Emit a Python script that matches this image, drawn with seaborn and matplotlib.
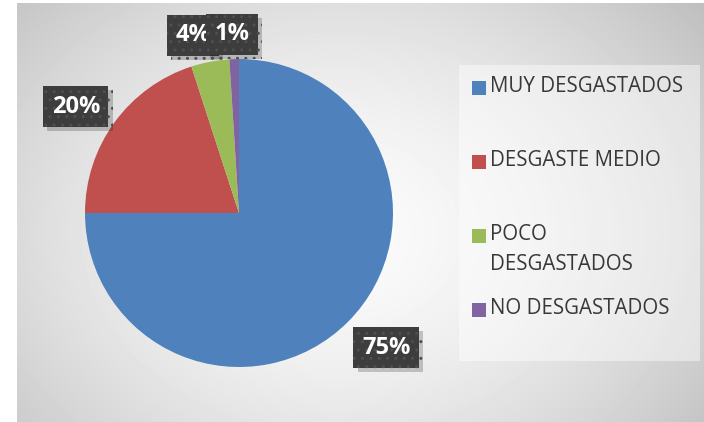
import numpy as np
import matplotlib.pyplot as plt
import matplotlib.patches as mpatches
import matplotlib.patheffects as pe
import seaborn as sns

categories = ['MUY DESGASTADOS', 'DESGASTE MEDIO', 'POCO\nDESGASTADOS', 'NO DESGASTADOS']
values = [75, 20, 4, 1]
pct_labels = ['75%', '20%', '4%', '1%']
colors = ['#4f81bd', '#c0504d', '#9bbb59', '#8064a2']

sns.set_theme(style="white")
plt.rcParams['font.family'] = ['Open Sans', 'DejaVu Sans']

W, H = 704, 422
fig = plt.figure(figsize=(W / 100, H / 100), dpi=100)
fig.patch.set_facecolor('white')

# radial gradient panel
bg = fig.add_axes([17 / W, 0, (W - 17) / W, (H - 3) / H])
yy, xx = np.mgrid[0:H - 3, 0:W - 17]
cx, cy = 320, 230
d = np.sqrt(((xx - cx) / 420) ** 2 + ((yy - cy) / 330) ** 2)
shade = 0.985 - 0.2 * np.clip(d, 0, 1.2) ** 1.6
bg.imshow(shade, cmap='gray', vmin=0, vmax=1, aspect='auto', interpolation='bilinear')
bg.set_axis_off()

# legend panel
fig.patches.append(mpatches.Rectangle((459 / W, 1 - 361 / H), 241 / W, 296 / H,
                                      transform=fig.transFigure, facecolor='white',
                                      alpha=0.45, edgecolor='none'))

# pie
cxp, cyp, r = 239, 213, 154
ax = fig.add_axes([(cxp - r) / W, (H - cyp - r) / H, 2 * r / W, 2 * r / H])
wedges, _ = ax.pie(values, colors=colors, startangle=90, counterclock=False,
                   wedgeprops=dict(linewidth=0))
ax.set_xlim(-1, 1)
ax.set_ylim(-1, 1)
ax.set_axis_off()

# data label positions (axes data units)
label_pos = [(0.955, -0.875), (-1.06, 0.69), (-0.30, 1.155), (-0.045, 1.16)]
for lab, (x, y) in zip(pct_labels, label_pos):
    t = ax.text(x, y, lab, ha='center', va='center', fontsize=17, fontweight='bold',
                color='white', clip_on=False,
                bbox=dict(boxstyle='square,pad=0.36', facecolor='#3d3d3d',
                          edgecolor='#4f4f4f', hatch='..', linewidth=0))
    t.get_bbox_patch().set_path_effects([
        pe.SimplePatchShadow(offset=(3, -3), shadow_rgbFace='black', alpha=0.2),
        pe.Normal()])

# legend
for i, (cat, col) in enumerate(zip(categories, colors)):
    ym = 88 + 74 * i
    fig.patches.append(mpatches.Rectangle((472 / W, 1 - (ym + 7) / H), 14 / W, 14 / H,
                                          transform=fig.transFigure, facecolor=col,
                                          edgecolor='none'))
    fig.text(490 / W, 1 - (ym - 12) / H, cat, ha='left', va='top', fontsize=14.8,
             color='#383838', linespacing=1.55)

fig.savefig('out.png', dpi=100)
